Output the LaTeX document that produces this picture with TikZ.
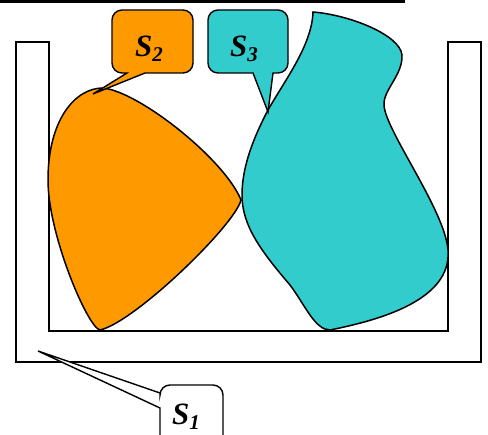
\documentclass[tikz,border=0pt]{standalone}
\usepackage{fontspec}
\setmainfont{Liberation Serif}
\definecolor{orng}{HTML}{FF9900}
\definecolor{cyn}{HTML}{33CCCC}
\newcommand{\lab}[2]{{\fontsize{31}{36}\selectfont\bfseries\itshape #1}{\fontsize{21}{24}\selectfont\bfseries\itshape\raisebox{-5pt}{#2}}}
\begin{document}
\begin{tikzpicture}[x=1pt,y=-1pt,
  wall/.style={draw=black,line width=1.4pt,line join=miter},
  blob/.style={draw=black,line width=1.5pt},
  callbox/.style={draw=black,line width=1.4pt,line join=miter},
  lbl/.style={inner sep=0pt,anchor=base west}]
\useasboundingbox (0,0) rectangle (488,435);
\clip (0,0) rectangle (488,435);
% top bar
\fill[black] (0,0) rectangle (405,3.5);
% container
\draw[wall] (16,42) -- (16,362) -- (481,362) -- (481,42) -- (448,42) -- (448,331) -- (49,331) -- (49,42) -- cycle;
% orange blob
\draw[blob,fill=orng] (103,88) .. controls (140,92) and (225,160) .. (241,200)
  .. controls (235,225) and (135,322) .. (100,330)
  .. controls (88,328) and (48,235) .. (48,180)
  .. controls (48,120) and (75,88) .. (103,88) -- cycle;
% cyan blob
\draw[blob,fill=cyn] (313,12) .. controls (350,15) and (400,35) .. (402,55)
  .. controls (403,75) and (383,90) .. (384,105)
  .. controls (385,130) and (445,210) .. (448,250)
  .. controls (452,300) and (380,320) .. (330,330)
  .. controls (315,330) and (305,305) .. (290,285)
  .. controls (260,250) and (242,225) .. (242,195)
  .. controls (242,165) and (255,135) .. (268,110)
  .. controls (285,80) and (312,45) .. (313,12) -- cycle;
% callout S2
\draw[callbox,fill=orng] (145,73) -- (183,73) .. controls (188.5,73) and (193,68.5) .. (193,63)
  -- (193,20) .. controls (193,14.5) and (188.5,10) .. (183,10) -- (122,10) .. controls (116.5,10) and (112,14.5) .. (112,20)
  -- (112,63) .. controls (112,68.5) and (116.5,73) .. (122,73) -- (127,73) -- (93,94) -- cycle;
% callout S3
\draw[callbox,fill=cyn] (273,73) -- (278,73) .. controls (283.5,73) and (288,68.5) .. (288,63)
  -- (288,20) .. controls (288,14.5) and (283.5,10) .. (278,10) -- (218,10) .. controls (212.5,10) and (208,14.5) .. (208,20)
  -- (208,63) .. controls (208,68.5) and (212.5,73) .. (218,73) -- (253,73) -- (268,112) -- cycle;
% callout S1
\draw[callbox,fill=white] (160,408) -- (160,435) .. controls (160,440.5) and (164.5,445) .. (170,445)
  -- (213,445) .. controls (218.5,445) and (223,440.5) .. (223,435) -- (223,395) .. controls (223,389.5) and (218.5,385) .. (213,385)
  -- (170,385) .. controls (164.5,385) and (160,389.5) .. (160,395) -- (160,393) -- (38,351) -- cycle;
% labels
\node[lbl] (s2) at (135,57) {\lab{S}{2}};
\node[lbl] (s3) at (230,57) {\lab{S}{3}};
\node[lbl] (s1) at (172,425) {\lab{S}{1}};
\end{tikzpicture}
\end{document}
